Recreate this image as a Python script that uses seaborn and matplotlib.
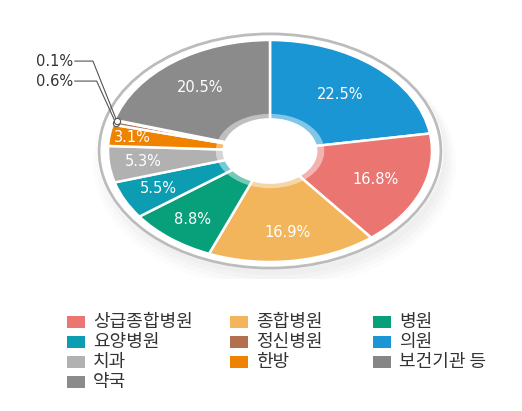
import matplotlib
matplotlib.use("Agg")
import matplotlib.pyplot as plt
from matplotlib.patches import Wedge, Circle, Rectangle
import numpy as np
import seaborn as sns

sns.set_theme(style="white")
plt.rcParams['font.family'] = ['Noto Sans CJK KR', 'DejaVu Sans']

# slices, clockwise from 12 o'clock
slice_names = ['의원', '상급종합병원', '종합병원', '병원', '요양병원',
               '치과', '한방', '정신병원', '보건기관 등', '약국']
slice_values = [22.5, 16.8, 16.9, 8.8, 5.5, 5.3, 3.1, 0.6, 0.1, 20.5]
slice_colors = ['#1a96d4', '#ea7571', '#f2b55c', '#07a07a', '#0d9db2',
                '#b1b1b1', '#ef8300', '#b3704f', '#868686', '#8b8b8b']
pal = sns.color_palette(slice_colors)
# how far out along each wedge the % label sits (fraction of radius)
label_r = [0.67, 0.70, 0.74, 0.78, 0.77, 0.79, 0.86, 0, 0, 0.72]

# legend order (row by row, 3 columns)
legend_names = ['상급종합병원', '종합병원', '병원',
                '요양병원', '정신병원', '의원',
                '치과', '한방', '보건기관 등',
                '약국']
small_slices = ['보건기관 등', '정신병원']   # labelled outside with leader lines

W, H = 522, 411
fig = plt.figure(figsize=(W / 100, H / 100), dpi=100)

# ellipse geometry in pixels
cx, cy, rx, ry = 270, 151, 162, 111
lim = 1.15
ax = fig.add_axes([(cx - lim * rx) / W, (H - cy - lim * ry) / H,
                   2 * lim * rx / W, 2 * lim * ry / H])

# faint shadow under the disc
for k, a in enumerate([0.035, 0.03, 0.025, 0.02]):
    ax.add_patch(Circle((0.03, -0.06 - 0.02 * k), 1.06 + 0.02 * k, fc='#7a7a7a',
                        ec='none', alpha=a, zorder=0))
ax.add_patch(Circle((0, 0), 1.07, fc='white', ec='none', zorder=0.5))

hole = 0.285
wedges, texts = ax.pie(slice_values, colors=pal, startangle=90, counterclock=False,
                       radius=1.0, wedgeprops=dict(width=1 - hole, edgecolor='white', linewidth=1.8),
                       frame=False)
for w in wedges:
    w.set_zorder(2)

# outer grey rim and lighter inner band
ax.add_patch(Circle((0, 0), 1.055, fc='none', ec='#bcbcbc', lw=2, zorder=1))
ax.add_patch(Wedge((0, 0), hole + 0.05, 0, 360, width=0.05, fc='white', ec='none',
                   alpha=0.45, zorder=3))

num_font = dict(family=['DejaVu Sans'])
for w, name, v, r in zip(wedges, slice_names, slice_values, label_r):
    mid = np.deg2rad((w.theta1 + w.theta2) / 2)
    if name in small_slices:
        continue
    ax.text(r * np.cos(mid), r * np.sin(mid), f'{v}%', color='white', fontsize=10.5,
            ha='center', va='center', zorder=4, **num_font)

# leader lines for tiny slices
label_pos = {'보건기관 등': (-1.216, 0.81, -1.093), '정신병원': (-1.216, 0.63, -1.07)}
for w, name, v in zip(wedges, slice_names, slice_values):
    if name not in small_slices:
        continue
    mid = np.deg2rad((w.theta1 + w.theta2) / 2)
    px, py = 0.985 * np.cos(mid), 0.985 * np.sin(mid)
    tx, ty, ex = label_pos[name]
    ax.plot([tx + 0.01, ex, px], [ty, ty, py], color='#555555', lw=0.8,
            clip_on=False, zorder=5)
    ax.plot(px, py, 'o', ms=4.5, mfc='white', mec='#555555', mew=0.8,
            clip_on=False, zorder=6)
    ax.text(tx, ty, f'{v}%', ha='right', va='center', fontsize=10.5, color='#333333',
            **num_font)

ax.set_aspect('auto')
ax.set_xlim(-lim, lim)
ax.set_ylim(-lim, lim)
ax.axis('off')

# legend, drawn by hand in pixel layout
col_x = [67, 230, 373]
row_y = [322, 342, 362, 382]
color_of = dict(zip(slice_names, slice_colors))
for i, name in enumerate(legend_names):
    c, r = i % 3, i // 3
    x, y = col_x[c], row_y[r]
    fig.patches.append(Rectangle((x / W, (H - y - 6) / H), 18 / W, 12 / H,
                                 fc=color_of[name], ec='none',
                                 transform=fig.transFigure, figure=fig))
    fig.text((x + 26) / W, (H - y) / H, name, fontsize=13, color='#333333',
             ha='left', va='center')

fig.savefig('out.png', dpi=100, facecolor='white')
